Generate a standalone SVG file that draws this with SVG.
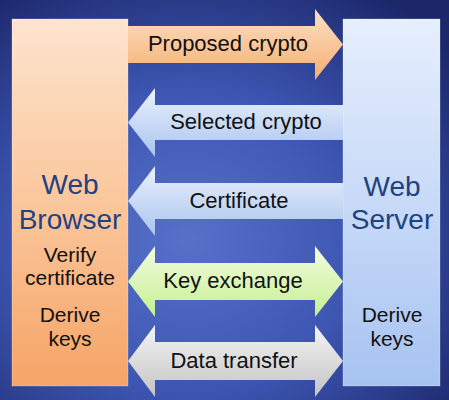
<svg xmlns="http://www.w3.org/2000/svg" width="449" height="400" viewBox="0 0 449 400">
  <defs>
    <radialGradient id="bg" cx="0.42" cy="0.6" r="0.75">
      <stop offset="0" stop-color="#5771c9"/>
      <stop offset="0.5" stop-color="#3d56b2"/>
      <stop offset="1" stop-color="#1c276a"/>
    </radialGradient>
    <linearGradient id="gBrowser" x1="0" y1="0" x2="0" y2="1">
      <stop offset="0" stop-color="#fde4cf"/>
      <stop offset="0.5" stop-color="#fbc79c"/>
      <stop offset="1" stop-color="#f6a466"/>
    </linearGradient>
    <linearGradient id="gServer" x1="0" y1="0" x2="0" y2="1">
      <stop offset="0" stop-color="#e6effd"/>
      <stop offset="0.5" stop-color="#c8daf8"/>
      <stop offset="1" stop-color="#a7c3f1"/>
    </linearGradient>
    <linearGradient id="gOrange" x1="0" y1="0" x2="0" y2="1">
      <stop offset="0" stop-color="#fde0c4"/>
      <stop offset="1" stop-color="#f6ae72"/>
    </linearGradient>
    <linearGradient id="gBlue" x1="0" y1="0" x2="0" y2="1">
      <stop offset="0" stop-color="#eaf1fd"/>
      <stop offset="1" stop-color="#aac4ef"/>
    </linearGradient>
    <linearGradient id="gGreen" x1="0" y1="0" x2="0" y2="1">
      <stop offset="0" stop-color="#f2fde0"/>
      <stop offset="1" stop-color="#c6ee92"/>
    </linearGradient>
    <linearGradient id="gGray" x1="0" y1="0" x2="0" y2="1">
      <stop offset="0" stop-color="#f4f4f4"/>
      <stop offset="1" stop-color="#c4c4c4"/>
    </linearGradient>
  </defs>
  <style>
    text { font-family: "Liberation Sans", Arial, sans-serif; text-anchor: middle; }
    .big { font-size: 28px; fill: #1f4283; }
    .small { font-size: 21px; fill: #111111; }
    .lbl { font-size: 22px; fill: #111111; }
    .box { stroke: #ffffff; stroke-opacity: 0.25; stroke-width: 1; }
  </style>
  <rect x="0" y="0" width="449" height="400" fill="url(#bg)"/>

  <g id="web-browser">
    <rect class="box" x="12" y="19" width="116" height="367" fill="url(#gBrowser)"/>
    <text class="big" x="70" y="194">Web</text>
    <text class="big" x="70" y="229">Browser</text>
    <text class="small" x="70" y="262">Verify</text>
    <text class="small" x="70" y="285">certificate</text>
    <text class="small" x="70" y="322">Derive</text>
    <text class="small" x="70" y="346">keys</text>
  </g>

  <g id="web-server">
    <rect class="box" x="343" y="19" width="97" height="367" fill="url(#gServer)"/>
    <text class="big" x="392" y="196">Web</text>
    <text class="big" x="392" y="229">Server</text>
    <text class="small" x="392" y="322">Derive</text>
    <text class="small" x="392" y="346">keys</text>
  </g>

  <g id="connectors">
    <g id="proposed-crypto">
      <polygon points="128,26 315,26 315,9 343,44.5 315,80 315,63 128,63" fill="url(#gOrange)"/>
      <text class="lbl" x="228" y="51">Proposed crypto</text>
    </g>
    <g id="selected-crypto">
      <polygon points="343,105 155,105 155,88 128,122.5 155,157 155,140 343,140" fill="url(#gBlue)"/>
      <text class="lbl" x="246" y="129">Selected crypto</text>
    </g>
    <g id="certificate">
      <polygon points="343,183 155,183 155,166 128,201 155,236 155,219 343,219" fill="url(#gBlue)"/>
      <text class="lbl" x="239" y="208">Certificate</text>
    </g>
    <g id="key-exchange">
      <polygon points="155,263 315,263 315,246 343,281.5 315,317 315,300 155,300 155,317 128,281.5 155,246" fill="url(#gGreen)"/>
      <text class="lbl" x="233" y="288">Key exchange</text>
    </g>
    <g id="data-transfer">
      <polygon points="155,342 315,342 315,325 343,361 315,397 315,380 155,380 155,397 128,361 155,325" fill="url(#gGray)"/>
      <text class="lbl" x="234" y="368">Data transfer</text>
    </g>
  </g>
</svg>
